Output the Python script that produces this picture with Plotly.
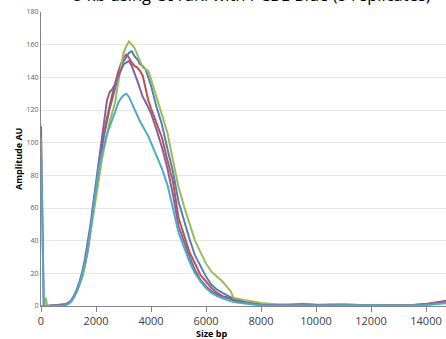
import plotly.graph_objects as go

title_text = "5 kb using CoTaRi with PCBE Blue (5 replicates)"
series_names = ["Replicate 1", "Replicate 2", "Replicate 3", "Replicate 4", "Replicate 5"]
x_ticks = [0, 2000, 4000, 6000, 8000, 10000, 12000, 14000]
y_ticks = [0, 20, 40, 60, 80, 100, 120, 140, 160, 180]

size_bp = [0, 100, 180, 220, 260, 500, 700, 800, 900, 1000, 1100, 1200, 1300, 1400, 1500,
           1600, 1700, 1800, 1900, 2000, 2100, 2200, 2300, 2400, 2500, 2600, 2700, 2800,
           2900, 3000, 3100, 3200, 3300, 3400, 3500, 3600, 3700, 3800, 3900, 4000, 4200,
           4400, 4600, 4800, 5000, 5200, 5400, 5600, 5800, 6000, 6200, 6400, 6600, 6800,
           6900, 7000, 7200, 7400, 7600, 7800, 8000, 8500, 9000, 9500, 10000, 10500,
           11000, 11500, 12000, 12500, 13000, 13500, 14000, 14500, 15000]

blue = [0, 0, 0, 0, 0, 0.3, 0.4, 0.5, 1, 1.8, 3, 5.5, 9, 13, 18,
        25, 34, 46, 59, 72, 84, 95, 105, 114, 121, 127, 133, 140,
        146, 150, 152, 155, 156, 153, 151, 148, 147, 145, 140, 135, 122,
        111, 96, 82, 64, 52, 41, 31, 24, 18, 13, 10, 8, 6,
        5.2, 4.5, 3.5, 2.5, 2, 1.5, 1, 0.6, 0.5, 0.6, 0.5, 0.4,
        0.5, 0.5, 0.3, 0.3, 0.3, 0.5, 1, 2.2, 3.5]

red = [0, 0, 0, 0, 0, 0.5, 0.6, 0.6, 1, 1.8, 3, 5.5, 9, 13.5, 19,
       26, 35, 48, 62, 75, 87, 98, 107, 116, 123, 130, 137, 143,
       148, 152, 154, 152, 149, 147, 146, 144, 141, 133, 126, 121, 112,
       103, 89, 76, 54, 44, 33, 26, 19, 15, 11, 8, 6, 5,
       4.5, 4, 3, 2, 1.5, 1, 0.8, 0.7, 0.8, 1.4, 0.7, 0.5,
       0.5, 0.4, 0.3, 0.3, 0.4, 0.6, 1.2, 2.5, 4]

green = [0, 0, 5, 0, 0, 0.3, 0.4, 0.5, 0.9, 1.5, 3, 5.5, 9, 13, 18,
         25, 34, 45, 57, 68, 79, 88, 97, 106, 113, 119, 125, 136,
         147, 155, 159, 162, 160, 158, 154, 150, 146, 145, 144, 139, 128,
         118, 106, 89, 73, 61, 50, 40, 33, 26, 21, 18, 15, 11,
         9, 5, 4.5, 3.6, 3, 2.2, 1.8, 1, 0.8, 0.6, 0.8, 1,
         1.2, 0.8, 0.5, 0.3, 0.3, 0.4, 0.8, 1.8, 3]

purple = [110, 0, 0, 0, 0, 0.5, 0.6, 0.6, 1.1, 2, 3.5, 6.5, 10, 15, 21,
          29, 39, 50, 63, 76, 89, 103, 116, 126, 131, 133, 136, 140,
          144, 148, 149, 150, 147, 143, 138, 133, 128, 125, 121, 118, 108,
          97, 84, 68, 49, 39, 30, 22, 16, 12, 9, 7, 5.5, 5,
          4.2, 3.5, 2.5, 2, 1.5, 1, 0.8, 0.6, 0.6, 0.7, 0.8, 0.6,
          0.5, 0.4, 0.3, 0.2, 0.3, 0.4, 0.9, 1.8, 3]

cyan = [103, 0, 0, 0, 0, 0.2, 0.3, 0.3, 0.6, 1.3, 2.8, 5.5, 9, 13.5, 19,
        26, 35, 47, 60, 72, 84, 92, 99, 105, 110, 114, 119, 124,
        127, 129, 130, 128, 124, 121, 117, 113, 110, 107, 104, 100, 92,
        84, 74, 60, 45, 36, 27, 20, 15, 11, 8, 6, 4.5, 3.5,
        3, 2.5, 2, 1.5, 1, 0.8, 0.5, 0.4, 0.3, 0.4, 0.3, 0.3,
        0.4, 0.3, 0.2, 0.2, 0.2, 0.3, 0.6, 1.2, 2]

series = [blue, red, green, purple, cyan]
colors = ["#4F81BD", "#C0504D", "#9BBB59", "#8064A2", "#4BACC6"]

fig = go.Figure()
for name, ys, col in zip(series_names, series, colors):
    fig.add_trace(go.Scatter(x=size_bp, y=ys, mode="lines", name=name,
                             line=dict(color=col, width=2), showlegend=False))

fig.update_layout(
    width=446, height=339,
    margin=dict(l=41, r=0, t=12, b=33, autoexpand=False),
    paper_bgcolor="white", plot_bgcolor="white",
    font=dict(family="Open Sans, Arial, sans-serif", color="#404040"),
)
fig.update_xaxes(range=[0, 14727], tickvals=x_ticks, ticktext=[str(v) for v in x_ticks],
                 ticks="outside", ticklen=5, tickcolor="#868686", automargin=False,
                 showline=True, linecolor="#868686", linewidth=1,
                 showgrid=False, zeroline=False,
                 tickfont=dict(size=11, color="#404040"))
fig.update_yaxes(range=[0, 180], tickvals=y_ticks, ticktext=[str(v) for v in y_ticks],
                 automargin=False,
                 showline=True, linecolor="#868686", linewidth=1,
                 showgrid=True, gridcolor="#E6E6E6", gridwidth=1, zeroline=False,
                 tickfont=dict(size=7, color="#595959"))

fig.add_annotation(text=title_text, xref="paper", yref="paper", x=0.52, y=1,
                   xanchor="center", yanchor="bottom", yshift=3.5, showarrow=False,
                   font=dict(size=16.5, color="#000000", family="Open Sans, Arial, sans-serif"))
fig.add_annotation(text="<b>Size bp</b>", xref="paper", yref="paper", x=0.42, y=0,
                   xanchor="center", yanchor="middle", yshift=-27, showarrow=False,
                   font=dict(size=9, color="#000000"))
fig.add_annotation(text="<b>Amplitude AU</b>", xref="paper", yref="paper", x=0, y=0.5,
                   xanchor="center", yanchor="middle", xshift=-23, textangle=-90,
                   showarrow=False, font=dict(size=9, color="#000000"))

fig.write_html("out.html", config={"displayModeBar": False},
               post_script="document.body.style.margin='0';")
